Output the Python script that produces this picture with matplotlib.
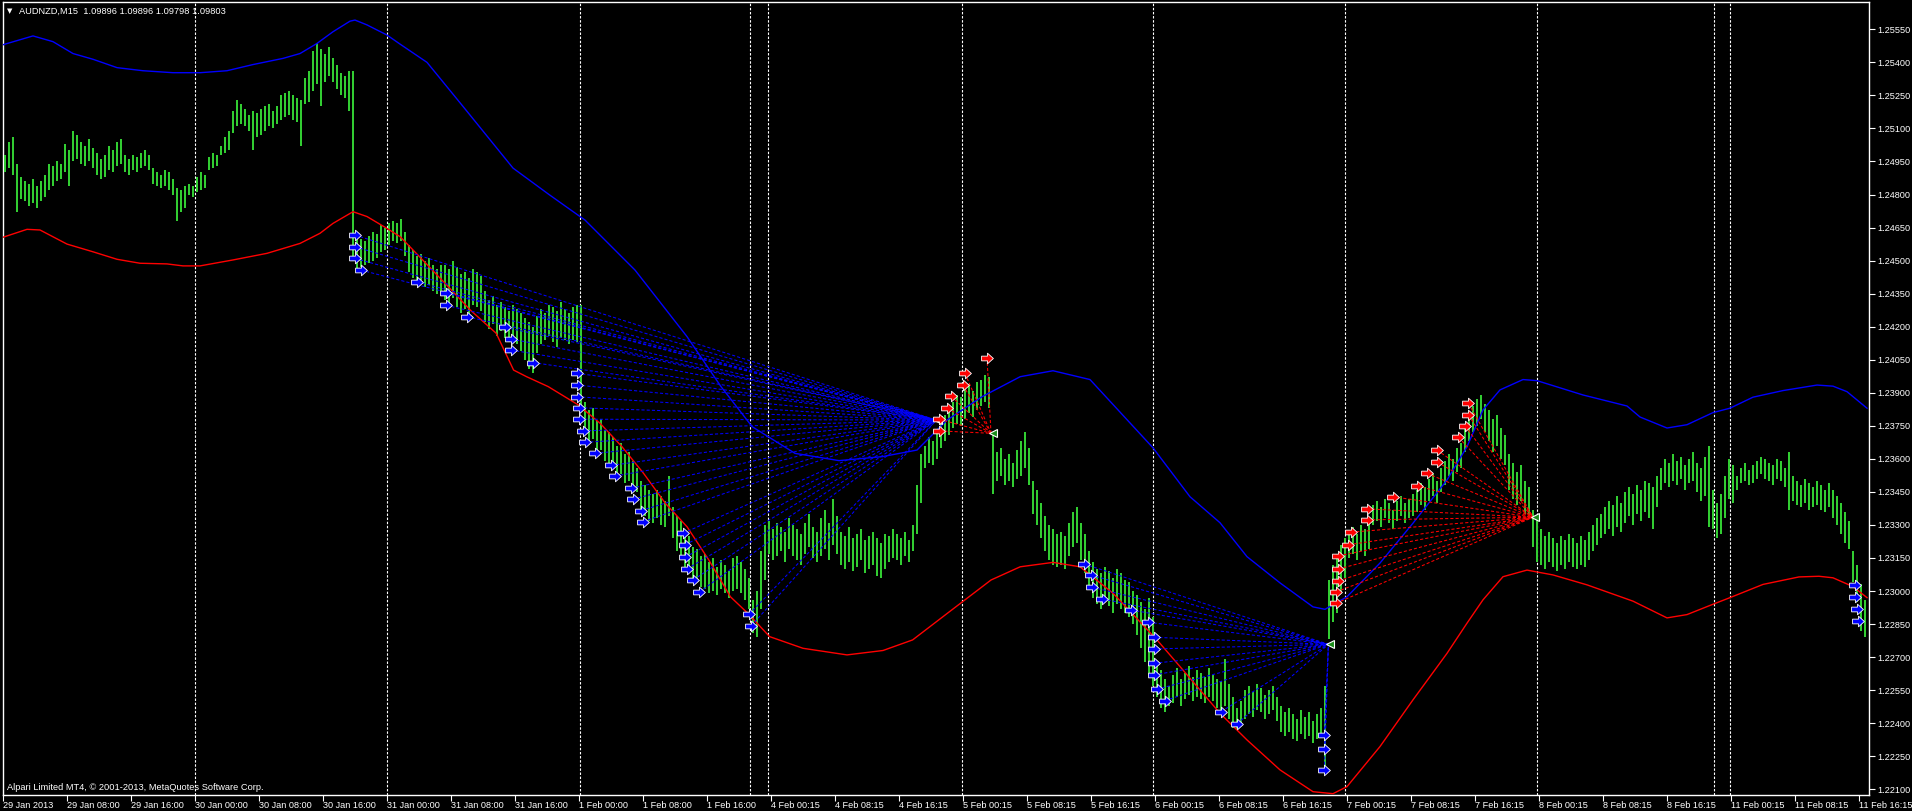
import numpy as np
import matplotlib
matplotlib.use("Agg")
import matplotlib.pyplot as plt
from matplotlib.path import Path

# bar values are pips above this level
base = 1.2200

# high / low of each drawn bar (every bar covers two M15 bars)
hi_pips = [
    298, 304, 306, 294, 288, 286, 285, 287, 284, 286,
    289, 294, 293, 295, 294, 303, 300, 309, 307, 304,
    302, 305, 301, 299, 296, 298, 302, 300, 304, 305,
    298, 296, 298, 297, 299, 300, 298, 292, 290, 289,
    291, 290, 287, 283, 282, 284, 285, 284, 288, 290,
    289, 297, 299, 298, 302, 306, 309, 318, 323, 321,
    319, 316, 318, 317, 319, 320, 321, 318, 320, 325,
    326, 327, 325, 324, 323, 333, 336, 345, 349, 346,
    344, 347, 342, 339, 335, 334, 336, 336,
    262, 260, 259, 261, 263, 262, 266, 265, 267, 268, 267, 269,
    263, 257, 255, 252, 253, 250, 251, 248, 246, 248,
    248, 246, 250, 247, 244, 245, 242, 246, 245, 243,
    236, 232, 234, 230, 231, 229, 227, 230, 228, 226,
    224, 222, 220, 225, 228, 226, 230, 229, 227, 231, 228, 226, 229, 230,
    230,
    186, 182, 183, 177, 178, 173, 172,
    170, 166, 167, 162, 163, 159, 156,
    150, 148, 146, 144, 146, 143, 141, 152,
    138, 134, 132, 126, 125, 120, 119, 116,
    117, 113, 115, 111, 114, 112, 109, 115,
    116, 113, 110, 106,
    96, 100,
    118, 130,
    132, 128, 131, 129, 127, 133, 130, 128, 126, 131, 135, 129, 127,
    133, 137, 131, 142, 134,
    127, 125, 129, 124, 126, 128, 123, 125, 127, 124, 122, 126,
    125, 128, 126, 124, 127, 123, 130,
    148, 162,
    166, 170, 168, 172,
    176, 180, 183, 186, 189, 188, 192, 194, 191, 195, 196, 198, 197,
    172,
    163, 165, 160, 162, 158, 164,
    168, 172, 165, 150, 146, 140, 134, 130, 128, 126, 127, 125, 131, 136, 138,
    131, 126, 118, 113, 110, 108, 111, 109, 106, 110, 108, 105,
    104, 100, 98, 95, 92, 97, 88,
    68, 64, 60, 57,
    62, 65, 60, 63, 66, 61, 64,
    63, 61, 65, 62, 60, 59,
    69, 58, 52, 47, 50,
    55, 57, 54, 58, 56, 53, 55, 57, 52,
    48, 45, 47, 44, 42, 46, 43, 45, 41, 44, 47, 57,
    105, 112, 117, 121, 124,
    127, 129, 126, 130, 128, 131,
    139, 141, 138, 142, 140, 137, 141, 143, 140, 142,
    144, 146, 149, 147, 151, 153, 150,
    156, 159, 162, 160, 165, 167,
    176, 180, 184, 187, 189,
    185, 182, 178, 180, 174, 171,
    162, 158, 154, 157, 150, 147,
    137, 133,
    128, 125, 127, 124, 122, 125, 123, 126, 124, 122, 125, 123, 127, 130, 133, 135,
    138, 141, 139, 143, 140, 145, 147, 144, 148, 146, 150, 149, 147, 152,
    156, 160, 158, 162, 159, 161, 157, 160, 163, 158, 156, 161, 166,
    146, 140, 144, 152,
    160, 157, 152, 156, 158, 155, 157, 159, 161, 160, 158, 157, 160, 159, 156, 163,
    152, 150, 148, 151, 149, 147, 150, 148, 146, 149,
    146, 143, 140, 136, 132,
    118, 112, 103, 96,
]
lo_pips = [
    290, 292, 289, 272, 278, 277, 275, 276, 274, 277,
    279, 282, 284, 286, 287, 290, 284, 295, 296, 294,
    293, 295, 292, 289, 287, 288, 291, 290, 293, 294,
    290, 289, 291, 290, 292, 293, 291, 285, 284, 283,
    284, 282, 280, 268, 272, 274, 280, 279, 281, 282,
    283, 291, 292, 293, 298, 299, 300, 308, 311, 312,
    311, 309, 300, 306, 307, 309, 311, 310, 312, 314,
    315, 316, 314, 313, 302, 321, 322, 327, 330, 320,
    331, 334, 331, 328, 325, 324, 318, 250,
    246, 247, 248, 249, 250, 251, 254, 255, 257, 259, 258, 259,
    252, 245, 242, 240, 241, 238, 239, 236, 235, 236,
    232, 230, 233, 229, 226, 228, 225, 230, 229, 227,
    222, 219, 221, 216, 218, 215, 213, 216, 212, 209,
    205, 201, 199, 208, 212, 214, 216, 213, 211, 215, 214, 212, 214, 213,
    184,
    172, 168, 169, 163, 164, 159, 158,
    156, 152, 153, 149, 150, 146, 145,
    136, 134, 132, 131, 133, 130, 129, 134,
    124, 118, 116, 111, 109, 104, 104, 102,
    101, 99, 100, 98, 101, 99, 97, 100,
    101, 99, 96, 92,
    81, 79,
    92, 105,
    117, 114, 116, 118, 113, 119, 116, 114, 112, 117, 120, 115, 113,
    116, 119, 114, 121, 117,
    112, 110, 113, 109, 111, 114, 108, 110, 112, 107, 106, 110,
    113, 115, 114, 112, 116, 113, 118,
    126, 140,
    156, 158, 157, 160,
    165, 168, 171, 174, 176, 175, 178, 181, 179, 182, 184, 186, 183,
    144,
    150, 152, 148, 150, 147, 151,
    152, 156, 148, 135, 130, 124, 118, 114, 112, 111, 112, 110, 116, 120, 122,
    114, 108, 102, 97, 94, 92, 95, 93, 90, 94, 92, 90,
    88, 85, 80, 74, 68, 62, 57,
    52, 47, 45, 48,
    49, 52, 48, 51, 53, 50, 52,
    51, 49, 52, 50, 47, 45,
    48, 42, 38, 37, 40,
    42, 44, 43, 46, 45, 42, 44, 46, 41,
    36, 34, 36, 33, 32, 35, 33, 34, 31, 33, 35, 17,
    78, 86, 90, 99, 106,
    115, 117, 114, 118, 116, 119,
    130, 132, 129, 133, 131, 128, 132, 134, 131, 133,
    134, 136, 139, 137, 141, 143, 140,
    145, 148, 152, 150, 154, 156,
    163, 168, 172, 175, 178,
    172, 168, 163, 166, 160, 157,
    146, 142, 139, 141, 135, 133,
    120, 113,
    112, 110, 113, 111, 109, 112, 110, 113, 111, 110, 112, 111, 114, 118, 121, 124,
    126, 128, 125, 129, 127, 131, 134, 130, 135, 132, 136, 133, 128, 138,
    146, 149, 147, 150, 148, 151, 146, 149, 150, 145, 141, 143, 129,
    128, 124, 126, 133,
    142, 140, 146, 149, 150, 148, 149, 151, 153, 151, 150, 148, 151, 150, 147, 137,
    141, 139, 138, 140, 137, 138, 139, 137, 136, 138,
    133, 130, 126, 122, 119,
    104, 95, 82, 79,
]

# upper band (blue)
upper_bar = [0, 15, 25, 35, 45, 57, 70, 85, 98.5, 112, 125, 140, 148.5, 157, 165,
             173.5, 176, 182, 192, 198.5, 212, 230, 255, 273, 291, 316, 342, 359,
             374.6, 396, 418, 439.6, 457, 472, 489.5, 508.6, 525, 543.5, 575, 593.5,
             608.5, 622, 638.5, 655, 661, 672, 688.5, 705, 722, 732, 740, 748.5, 760,
             767, 790, 812, 818.5, 832, 842, 855, 863.5, 875, 890, 907, 915, 922, 932]
upper_pips = [348, 352, 349.4, 344, 341.4, 337.6, 336.2, 335.3, 335.3, 336.2, 339,
              341.8, 344, 348.6, 353.9, 358.7, 359.2, 357, 352.4, 348.3, 340, 320,
              292, 280, 268.4, 245.7, 215.5, 192.8, 174.6, 162.5, 159.2, 161, 164,
              177.6, 188.2, 197.3, 200, 196, 165, 142.8, 131, 115.6, 103.7, 92.8,
              91.7, 97.4, 112.7, 130.8, 150.4, 165.5, 182.2, 191.3, 196, 195.5, 189,
              184, 179, 174, 175.5, 181, 183, 188, 191, 193.5, 193, 190.5, 183]

# lower band (red)
lower_bar = [0, 12, 18.5, 32, 45, 57, 68.5, 82, 90, 98.5, 115, 132, 148.5, 158.5, 165,
             175, 182, 192, 198.5, 204.3, 222.7, 233.6, 246.6, 255.3, 261.8, 272.6,
             287.8, 298.6, 309.5, 320.3, 331.2, 342, 352.9, 363.7, 372.4, 383.3, 400,
             422, 440, 454.8, 472.2, 494, 508.6, 525, 538.5, 555, 577, 588.5, 608.5,
             622, 638.5, 655, 665, 672, 688.5, 705, 722, 732, 740, 750, 762, 775, 792,
             815, 832, 842, 855, 863.5, 880, 898, 908, 915, 925, 932]
lower_pips = [260.6, 264.2, 263.9, 257.5, 254, 250.6, 248.8, 248.5, 247.6, 247.6,
              250.3, 253.3, 257.8, 262.4, 266.9, 272.2, 270, 264.6, 260.9, 255.5,
              238.1, 227.6, 217, 200.3, 197.3, 192.8, 184.4, 176.1, 165.5, 153.4,
              139.8, 129.2, 114.1, 97.4, 89.9, 79.3, 74, 71, 73, 77.8, 89.9, 105, 111,
              113, 111, 99, 77.8, 65.7, 44.5, 32.4, 18.8, 8.9, 8, 11.2, 29.4, 50.6,
              71.7, 85.4, 96, 106.5, 109.5, 107.3, 102.8, 95.4, 87.8, 89.3, 94, 97,
              103, 106.4, 106.7, 106, 102, 97]

# signal arrows and the point each fan converges to
buy1_bar = [176, 176, 176, 179, 207, 221.6, 221.6, 232, 251, 254, 254, 265, 287, 287,
            287, 288, 288, 290, 291, 296, 304, 306, 314, 315, 319, 320, 340, 341, 341,
            342, 345, 348, 373, 374]
buy1_pips = [261.6, 256.3, 251.0, 245.7, 240.4, 235.2, 229.7, 224.5, 219.7, 214.4,
             209.4, 203.7, 198.8, 193.5, 188.2, 183.2, 178, 172.7, 167.5, 162.5, 157,
             152.2, 146.6, 141.7, 136.5, 131.5, 126.2, 121, 115.3, 110, 105, 99.4,
             89.4, 84.1]
buy1_end = (466.7, 177.6)

sell1_bar = [468, 468, 472, 474, 480, 481, 492]
sell1_pips = [178, 172.7, 183, 188.5, 193.5, 198.8, 206]
sell1_end = (494, 171.6)

buy2_bar = [540.5, 544, 544.7, 549.7, 564, 572.7, 575.5, 575.5, 575.5, 575.5, 576.8,
            581, 609, 617, 660.7, 660.7, 660.7]
buy2_pips = [112.3, 107.3, 101.7, 96.4, 91.4, 85.8, 79, 73.7, 67.2, 61.9, 55.4, 50.2,
             45.2, 39.7, 34.7, 28.2, 18.8]
buy2_end = (662.7, 75.8)

sell2_bar = [666.5, 666.5, 667.7, 667.7, 667.7, 672.7, 674, 682, 682, 695, 707, 712,
             717, 717, 727.7, 731, 732.7, 732.7]
sell2_pips = [94.4, 99.6, 104.6, 110, 116, 121, 126.7, 132.3, 137.3, 142.8, 147.8,
              153.4, 158.6, 164, 169.8, 175, 180, 185.2]
sell2_end = (765, 133.5)

buy3_bar = [926, 926, 927, 927.7]
buy3_pips = [102.6, 97.3, 91.9, 86.6]

# day separators (bar index)
sep_bars = [96, 192, 288.5, 373.5, 382.5, 479.5, 575, 671, 767, 855.5, 863.5]

time_labels = ["29 Jan 2013", "29 Jan 08:00", "29 Jan 16:00", "30 Jan 00:00",
               "30 Jan 08:00", "30 Jan 16:00", "31 Jan 00:00", "31 Jan 08:00",
               "31 Jan 16:00", "1 Feb 00:00", "1 Feb 08:00", "1 Feb 16:00",
               "4 Feb 00:15", "4 Feb 08:15", "4 Feb 16:15", "5 Feb 00:15",
               "5 Feb 08:15", "5 Feb 16:15", "6 Feb 00:15", "6 Feb 08:15",
               "6 Feb 16:15", "7 Feb 00:15", "7 Feb 08:15", "7 Feb 16:15",
               "8 Feb 00:15", "8 Feb 08:15", "8 Feb 16:15", "11 Feb 00:15",
               "11 Feb 08:15", "11 Feb 16:15"]
price_labels = ["1.22100", "1.22250", "1.22400", "1.22550", "1.22700", "1.22850",
                "1.23000", "1.23150", "1.23300", "1.23450", "1.23600", "1.23750",
                "1.23900", "1.24050", "1.24200", "1.24350", "1.24500", "1.24650",
                "1.24800", "1.24950", "1.25100", "1.25250", "1.25400", "1.25550"]


def px(v):
    return base + np.asarray(v, dtype=float) * 1e-4


W, H = 1912, 811
FONT = ["Liberation Sans", "DejaVu Sans"]
plt.rcParams["font.family"] = FONT

fig = plt.figure(figsize=(W / 100, H / 100), dpi=100, facecolor="black")
ax = fig.add_axes([3 / W, 1 - 795 / H, (1869 - 3) / W, (795 - 2) / H])
ax.set_facecolor("black")
ax.set_xlim(0, 933)
ax.set_ylim(px(7.4), px(367.4))

for s in ax.spines.values():
    s.set_color("white")
    s.set_linewidth(1)

# day separators
for b in sep_bars:
    ax.axvline(b, color="white", lw=0.8, ls=(0, (2.2, 1.5)), zorder=1)

# price bars
bar_x = 2 * np.arange(len(hi_pips)) + 1
ax.vlines(bar_x, px(lo_pips), px(hi_pips), colors="#32cd32", lw=1.44,
          antialiased=False, zorder=3)

# bands
ax.plot(upper_bar, px(upper_pips), color="#0000ff", lw=1.0, zorder=4)
ax.plot(lower_bar, px(lower_pips), color="#ff0000", lw=1.0, zorder=4)

# arrow marker
arrow = Path([(-1, -0.4), (0.0, -0.4), (0.0, -0.9), (1, 0), (0.0, 0.9),
              (0.0, 0.4), (-1, 0.4), (-1, -0.4)],
             [Path.MOVETO] + [Path.LINETO] * 6 + [Path.CLOSEPOLY])


def fan(bars, pips, end, color):
    for b, p in zip(bars, pips):
        ax.plot([b, end[0]], px([p, end[1]]), color=color, lw=0.75,
                ls=(0, (3, 2)), zorder=5)


def arrows(bars, pips, color):
    ax.plot(bars, px(pips), ls="none", marker=arrow, ms=8.5, mfc=color,
            mec="white", mew=0.6, zorder=7)


fan(buy1_bar, buy1_pips, buy1_end, "#0000ff")
fan(sell1_bar, sell1_pips, sell1_end, "#ff0000")
fan(buy2_bar, buy2_pips, buy2_end, "#0000ff")
fan(sell2_bar, sell2_pips, sell2_end, "#ff0000")

for end in [buy1_end, sell1_end, buy2_end, sell2_end]:
    ax.plot(end[0] + 1, px(end[1]), ls="none", marker="<", ms=6,
            mfc="#1a8c1a", mec="white", mew=0.8, zorder=6)

arrows(buy1_bar, buy1_pips, "#0000ff")
arrows(buy2_bar, buy2_pips, "#0000ff")
arrows(buy3_bar, buy3_pips, "#0000ff")
arrows(sell1_bar, sell1_pips, "#ff0000")
arrows(sell2_bar, sell2_pips, "#ff0000")

# axes ticks / labels
ax.yaxis.tick_right()
ax.set_yticks([float(t) for t in price_labels])
ax.set_yticklabels(price_labels)
ax.set_xticks(32 * np.arange(len(time_labels)))
ax.set_xticklabels(time_labels, ha="left")
ax.tick_params(axis="y", colors="white", length=4, width=0.8, pad=2,
               labelsize=6.6, labelcolor="white")
ax.tick_params(axis="x", colors="white", length=4, width=0.8, pad=0.5,
               labelsize=6.6, labelcolor="white")

fig.text(7 / W, 1 - 11 / H, "\u25bc", color="white", fontsize=5,
         family="DejaVu Sans", va="center", ha="left")
fig.text(19 / W, 1 - 11 / H, "AUDNZD,M15  1.09896 1.09896 1.09798 1.09803",
         color="white", fontsize=6.7, va="center", ha="left")
fig.text(7 / W, 1 - 787 / H, "Alpari Limited MT4, \u00a9 2001-2013, MetaQuotes Software Corp.",
         color="white", fontsize=6.7, va="center", ha="left")

fig.savefig("out.png", dpi=100, facecolor="black")
